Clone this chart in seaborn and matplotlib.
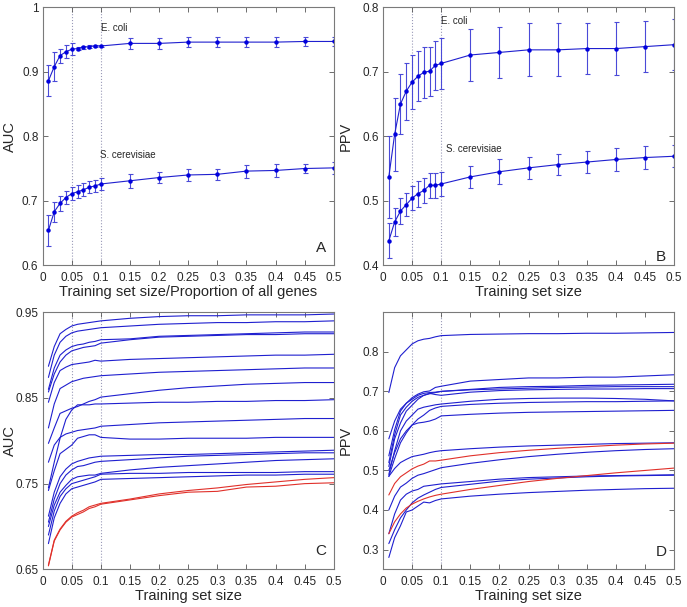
import numpy as np
import pandas as pd
import matplotlib
matplotlib.use('Agg')
import matplotlib.pyplot as plt
import seaborn as sns

sns.set_style('ticks')
plt.rcParams['font.family'] = ['Liberation Sans', 'DejaVu Sans']

# training set sizes (fraction of all genes)
sizes = [0.01, 0.02, 0.03, 0.04, 0.05, 0.06, 0.07, 0.08, 0.09, 0.1,
         0.15, 0.2, 0.25, 0.3, 0.35, 0.4, 0.45, 0.5]

# panel A: AUC
auc_ecoli = [0.886, 0.908, 0.925, 0.931, 0.935, 0.936, 0.938, 0.939, 0.940, 0.940,
             0.944, 0.944, 0.946, 0.946, 0.946, 0.946, 0.947, 0.947]
auc_ecoli_err = [0.024, 0.023, 0.011, 0.010, 0.009, 0.003, 0.002, 0.002, 0.002, 0.002,
                 0.0085, 0.008, 0.008, 0.008, 0.0075, 0.0075, 0.0065, 0.0065]
auc_scer = [0.654, 0.683, 0.696, 0.705, 0.711, 0.714, 0.717, 0.721, 0.723, 0.726,
            0.731, 0.736, 0.740, 0.741, 0.746, 0.747, 0.750, 0.751]
auc_scer_err = [0.024, 0.0155, 0.012, 0.010, 0.010, 0.010, 0.010, 0.009, 0.009, 0.009,
                0.0105, 0.009, 0.010, 0.009, 0.010, 0.010, 0.0075, 0.009]

# panel B: PPV
ppv_ecoli = [0.537, 0.603, 0.650, 0.670, 0.684, 0.693, 0.699, 0.701, 0.710, 0.713,
             0.726, 0.730, 0.734, 0.734, 0.736, 0.736, 0.739, 0.742]
ppv_ecoli_err = [0.063, 0.057, 0.046, 0.044, 0.042, 0.039, 0.039, 0.038, 0.038, 0.040,
                 0.040, 0.040, 0.041, 0.041, 0.040, 0.041, 0.039, 0.040]
ppv_scer = [0.438, 0.467, 0.484, 0.494, 0.504, 0.511, 0.516, 0.524, 0.524, 0.526,
            0.537, 0.545, 0.551, 0.556, 0.560, 0.564, 0.567, 0.569]
ppv_scer_err = [0.027, 0.022, 0.020, 0.018, 0.019, 0.020, 0.020, 0.019, 0.019, 0.019,
                0.017, 0.019, 0.017, 0.016, 0.017, 0.018, 0.018, 0.017]

# panel C: AUC curves for all organisms
auc_curves = {
    'c1': [0.887, 0.910, 0.925, 0.930, 0.934, 0.936, 0.937, 0.938, 0.939, 0.940,
           0.943, 0.945, 0.946, 0.946, 0.947, 0.947, 0.947, 0.948],
    'c2': [0.874, 0.900, 0.915, 0.922, 0.926, 0.928, 0.929, 0.930, 0.931, 0.932,
           0.934, 0.936, 0.937, 0.938, 0.938, 0.939, 0.939, 0.940],
    'c3': [0.860, 0.885, 0.900, 0.906, 0.910, 0.912, 0.913, 0.915, 0.916, 0.918,
           0.919, 0.922, 0.923, 0.924, 0.925, 0.926, 0.927, 0.927],
    'c4': [0.857, 0.878, 0.892, 0.900, 0.905, 0.907, 0.909, 0.910, 0.911, 0.914,
           0.918, 0.921, 0.922, 0.923, 0.924, 0.924, 0.925, 0.925],
    'c5': [0.845, 0.868, 0.882, 0.886, 0.889, 0.890, 0.891, 0.892, 0.894, 0.893,
           0.895, 0.896, 0.897, 0.898, 0.899, 0.900, 0.900, 0.901],
    'c6': [0.815, 0.843, 0.861, 0.865, 0.869, 0.871, 0.873, 0.874, 0.875, 0.876,
           0.878, 0.880, 0.881, 0.882, 0.883, 0.884, 0.885, 0.885],
    'c7': [0.797, 0.815, 0.832, 0.835, 0.838, 0.840, 0.843, 0.846, 0.848, 0.851,
           0.855, 0.859, 0.862, 0.864, 0.866, 0.867, 0.868, 0.868],
    'c8': [0.745, 0.775, 0.803, 0.825, 0.836, 0.842, 0.842, 0.842, 0.843, 0.843,
           0.844, 0.845, 0.845, 0.846, 0.846, 0.847, 0.847, 0.848],
    'c9': [0.775, 0.795, 0.804, 0.808, 0.810, 0.812, 0.813, 0.814, 0.815, 0.817,
           0.819, 0.821, 0.822, 0.823, 0.824, 0.825, 0.826, 0.826],
    'c10': [0.742, 0.765, 0.785, 0.790, 0.795, 0.803, 0.805, 0.807, 0.807, 0.804,
            0.802, 0.802, 0.803, 0.803, 0.803, 0.804, 0.804, 0.804],
    'c11': [0.712, 0.740, 0.758, 0.767, 0.773, 0.776, 0.778, 0.780, 0.781, 0.782,
            0.783, 0.784, 0.784, 0.785, 0.786, 0.787, 0.788, 0.789],
    'c12': [0.705, 0.732, 0.750, 0.760, 0.766, 0.770, 0.771, 0.773, 0.775, 0.776,
            0.778, 0.780, 0.782, 0.783, 0.784, 0.785, 0.786, 0.786],
    'c13': [0.700, 0.725, 0.740, 0.748, 0.755, 0.758, 0.759, 0.760, 0.760, 0.762,
            0.766, 0.769, 0.771, 0.773, 0.775, 0.777, 0.778, 0.779],
    'c14': [0.690, 0.718, 0.735, 0.744, 0.750, 0.752, 0.754, 0.756, 0.758, 0.761,
            0.762, 0.762, 0.763, 0.763, 0.763, 0.763, 0.764, 0.764],
    'c15': [0.680, 0.710, 0.727, 0.738, 0.744, 0.746, 0.748, 0.750, 0.752, 0.755,
            0.756, 0.757, 0.758, 0.759, 0.760, 0.760, 0.761, 0.761],
    'r1': [0.654, 0.683, 0.696, 0.705, 0.711, 0.714, 0.717, 0.721, 0.723, 0.726,
           0.731, 0.736, 0.740, 0.741, 0.746, 0.747, 0.750, 0.751],
    'r2': [0.655, 0.684, 0.697, 0.706, 0.712, 0.716, 0.719, 0.723, 0.725, 0.727,
           0.732, 0.738, 0.742, 0.745, 0.749, 0.752, 0.755, 0.757],
}

# panel D: PPV curves for all organisms
ppv_curves = {
    'd1': [0.697, 0.760, 0.790, 0.805, 0.820, 0.828, 0.832, 0.834, 0.838, 0.841,
           0.844, 0.845, 0.846, 0.846, 0.847, 0.847, 0.848, 0.849],
    'd2': [0.537, 0.603, 0.650, 0.670, 0.684, 0.693, 0.699, 0.701, 0.710, 0.713,
           0.726, 0.730, 0.734, 0.734, 0.736, 0.736, 0.739, 0.742],
    'd3': [0.580, 0.625, 0.655, 0.670, 0.680, 0.690, 0.695, 0.697, 0.698, 0.700,
           0.705, 0.710, 0.712, 0.713, 0.715, 0.716, 0.717, 0.718],
    'd4': [0.520, 0.590, 0.640, 0.660, 0.675, 0.685, 0.690, 0.694, 0.697, 0.700,
           0.704, 0.706, 0.708, 0.710, 0.711, 0.712, 0.712, 0.712],
    'd5': [0.510, 0.580, 0.620, 0.650, 0.665, 0.680, 0.690, 0.695, 0.692, 0.690,
           0.698, 0.702, 0.704, 0.705, 0.706, 0.706, 0.707, 0.707],
    'd6': [0.490, 0.550, 0.600, 0.625, 0.640, 0.655, 0.660, 0.663, 0.666, 0.668,
           0.675, 0.680, 0.682, 0.683, 0.683, 0.682, 0.680, 0.676],
    'd7': [0.500, 0.545, 0.580, 0.600, 0.615, 0.630, 0.640, 0.652, 0.658, 0.662,
           0.667, 0.670, 0.672, 0.673, 0.674, 0.674, 0.675, 0.676],
    'd8': [0.485, 0.530, 0.570, 0.595, 0.615, 0.620, 0.622, 0.625, 0.630, 0.638,
           0.642, 0.645, 0.647, 0.648, 0.649, 0.650, 0.651, 0.652],
    'd9': [0.485, 0.505, 0.520, 0.528, 0.535, 0.538, 0.541, 0.545, 0.548, 0.550,
           0.555, 0.559, 0.562, 0.564, 0.566, 0.568, 0.569, 0.570],
    'd10': [0.400, 0.435, 0.458, 0.468, 0.480, 0.488, 0.492, 0.497, 0.502, 0.507,
            0.518, 0.527, 0.535, 0.541, 0.546, 0.550, 0.553, 0.555],
    'd11': [0.340, 0.390, 0.425, 0.440, 0.448, 0.452, 0.460, 0.462, 0.464, 0.466,
            0.472, 0.478, 0.482, 0.484, 0.486, 0.487, 0.488, 0.489],
    'd12': [0.315, 0.350, 0.380, 0.400, 0.418, 0.430, 0.438, 0.445, 0.452, 0.457,
            0.465, 0.473, 0.478, 0.481, 0.484, 0.486, 0.487, 0.488],
    'd13': [0.280, 0.330, 0.360, 0.395, 0.400, 0.410, 0.420, 0.418, 0.424, 0.428,
            0.435, 0.440, 0.444, 0.447, 0.450, 0.452, 0.454, 0.455],
    'r1': [0.438, 0.467, 0.484, 0.494, 0.504, 0.511, 0.516, 0.524, 0.524, 0.526,
           0.537, 0.545, 0.551, 0.556, 0.560, 0.564, 0.567, 0.569],
    'r2': [0.340, 0.370, 0.390, 0.405, 0.415, 0.422, 0.428, 0.433, 0.437, 0.440,
           0.452, 0.462, 0.472, 0.480, 0.487, 0.494, 0.500, 0.506],
}

blue = '#1f1fcf'
red = '#e0302a'
xticks = [0, 0.05, 0.1, 0.15, 0.2, 0.25, 0.3, 0.35, 0.4, 0.45, 0.5]


def style_axes(ax, ylim, yticks, letter, letter_y):
    ax.set_xlim(0, 0.5)
    ax.set_ylim(*ylim)
    ax.set_xticks(xticks)
    ax.set_xticklabels(['%g' % t for t in xticks])
    ax.set_yticks(yticks)
    ax.set_yticklabels(['%g' % t for t in yticks])
    ax.tick_params(direction='in', length=3.5, width=0.6, color='#555555',
                   labelsize=8.5, top=True, right=True, pad=3)
    ax.tick_params(axis='x', pad=5)
    for sp in ax.spines.values():
        sp.set_visible(True)
        sp.set_color('#7a7a7a')
        sp.set_linewidth(0.8)
    for xv in (0.05, 0.1):
        ax.axvline(xv, color='#9a9ab8', ls=':', lw=0.8, zorder=0)
    ax.text(0.478, letter_y, letter, fontsize=11, ha='center', va='center')
    ax.set_xlabel('Training set size', fontsize=10.5)


def err_panel(ax, series):
    for vals, errs in series:
        ax.errorbar(sizes, vals, yerr=errs, fmt='none', ecolor='#4a4ad8',
                    elinewidth=0.8, capsize=1.8, capthick=0.8)
        sns.lineplot(x=sizes, y=vals, ax=ax, color=blue, lw=0.8, marker='o',
                     markersize=3.2, markeredgewidth=0, markerfacecolor='#0000dd')


def curve_panel(ax, curves):
    rows = []
    for name, vals in curves.items():
        for s, v in zip(sizes, vals):
            rows.append({'size': s, 'value': v, 'curve': name})
    df = pd.DataFrame(rows)
    pal = {n: (red if n.startswith('r') else blue) for n in curves}
    sns.lineplot(data=df, x='size', y='value', hue='curve', palette=pal,
                 estimator=None, lw=0.8, legend=False, ax=ax, sort=False)


fig = plt.figure(figsize=(6.87, 6.07), dpi=100)
axA = fig.add_axes([0.062, 0.563, 0.424, 0.425])
axB = fig.add_axes([0.5575, 0.563, 0.4236, 0.425])
axC = fig.add_axes([0.062, 0.0621, 0.424, 0.4234])
axD = fig.add_axes([0.5575, 0.0621, 0.4236, 0.4234])

err_panel(axA, [(auc_ecoli, auc_ecoli_err), (auc_scer, auc_scer_err)])
style_axes(axA, (0.6, 1.0), [0.6, 0.7, 0.8, 0.9, 1.0], 'A', 0.626)
axA.set_xlabel('Training set size/Proportion of all genes', fontsize=10.5)
axA.set_ylabel('AUC', fontsize=10.5)
axA.text(0.1, 0.968, 'E. coli', fontsize=7, va='center')
axA.text(0.098, 0.771, 'S. cerevisiae', fontsize=7, va='center')

err_panel(axB, [(ppv_ecoli, ppv_ecoli_err), (ppv_scer, ppv_scer_err)])
style_axes(axB, (0.4, 0.8), [0.4, 0.5, 0.6, 0.7, 0.8], 'B', 0.413)
axB.set_ylabel('PPV', fontsize=10.5)
axB.text(0.1, 0.778, 'E. coli', fontsize=7, va='center')
axB.text(0.109, 0.580, 'S. cerevisiae', fontsize=7, va='center')

curve_panel(axC, auc_curves)
style_axes(axC, (0.65, 0.95), [0.65, 0.75, 0.85, 0.95], 'C', 0.671)
axC.set_ylabel('AUC', fontsize=10.5)

curve_panel(axD, ppv_curves)
style_axes(axD, (0.25, 0.9), [0.3, 0.4, 0.5, 0.6, 0.7, 0.8], 'D', 0.293)
axD.set_ylabel('PPV', fontsize=10.5)

for ax in (axA, axC):
    ax.yaxis.set_label_coords(-0.088, 0.5)
for ax in (axB, axD):
    ax.yaxis.set_label_coords(-0.103, 0.5)
for ax in (axA, axB, axC, axD):
    ax.xaxis.set_label_coords(0.5, -0.075)

fig.savefig('out.png', dpi=100)
